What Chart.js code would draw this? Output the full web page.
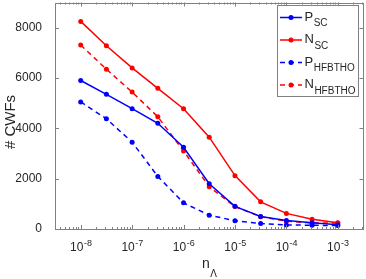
<!DOCTYPE html>
<html>
<head>
<meta charset="utf-8">
<script src="https://cdn.jsdelivr.net/npm/chart.js@4"></script>
<style>
  html, body { margin: 0; padding: 0; background: #fff; }
  #wrap { width: 366px; height: 279px; }
</style>
</head>
<body>
<div id="wrap"><canvas id="chart"></canvas></div>
<script>
// n_Lambda values (log x axis)
const nLambda = [1e-8, 3.16e-8, 1e-7, 3.16e-7, 1e-6, 3.16e-6, 1e-5, 3.16e-5, 1e-4, 3.16e-4, 1e-3];

// # CWFs per series
const pSC = [5900, 5350, 4780, 4200, 3250, 1800, 900, 500, 340, 250, 170];
const nSC = [8250, 7280, 6400, 5590, 4780, 3650, 2120, 1080, 620, 390, 250];
const pHFBTHO = [5050, 4380, 3450, 2090, 1040, 550, 330, 220, 160, 150, 135];
const nHFBTHO = [7310, 6350, 5440, 4460, 3100, 1680, 890, 490, 310, 240, 240];

const seriesNames = [['P', 'SC'], ['N', 'SC'], ['P', 'HFBTHO'], ['N', 'HFBTHO']];

// ticks
const xTickExps = [-8, -7, -6, -5, -4, -3];
const yTicks = [0, 2000, 4000, 6000, 8000];

const textColor = '#262626';
const axisColor = '#808080';
const blue = '#0000ff';
const red = '#ff0000';

function makeSet(label, values, color, dashed) {
    return {
        label: label,
        data: values.map((v, i) => ({ x: nLambda[i], y: v })),
        borderColor: color,
        backgroundColor: color,
        borderWidth: 1.5,
        borderDash: dashed ? [5, 4] : [],
        pointRadius: 2.5,
        pointHoverRadius: 2.5,
        pointBorderWidth: 0,
        tension: 0
    };
}

// frame, inside ticks, x labels, axis titles, legend
const matlabAxes = {
    id: 'matlabAxes',
    afterDraw(chart) {
        const ctx = chart.ctx;
        const a = chart.chartArea;
        const xs = chart.scales.x;
        const ys = chart.scales.y;
        ctx.save();

        // ticks
        ctx.strokeStyle = axisColor;
        ctx.lineWidth = 1;
        ctx.beginPath();
        for (let e = -9; e <= -2; e++) {
            for (let m = 1; m <= 9; m++) {
                const v = m * Math.pow(10, e);
                if (v < xs.min || v > xs.max) continue;
                const px = Math.round(xs.getPixelForValue(v)) + 0.5;
                const len = m === 1 ? 4 : 2;
                ctx.moveTo(px, a.bottom);
                ctx.lineTo(px, a.bottom - len);
                ctx.moveTo(px, a.top);
                ctx.lineTo(px, a.top + len);
            }
        }
        yTicks.forEach(v => {
            const py = Math.round(ys.getPixelForValue(v)) + 0.5;
            ctx.moveTo(a.left, py);
            ctx.lineTo(a.left + 4, py);
            ctx.moveTo(a.right, py);
            ctx.lineTo(a.right - 4, py);
        });
        ctx.stroke();

        // frame
        ctx.strokeRect(Math.round(a.left) + 0.5, Math.round(a.top) + 0.5,
            Math.round(a.right - a.left) - 1, Math.round(a.bottom - a.top) - 1);

        // x tick labels 10^e
        ctx.fillStyle = textColor;
        ctx.textBaseline = 'alphabetic';
        xTickExps.forEach(e => {
            const px = xs.getPixelForValue(Math.pow(10, e));
            ctx.font = '12px "Liberation Sans", Arial, sans-serif';
            const w1 = ctx.measureText('10').width;
            ctx.font = '9px "Liberation Sans", Arial, sans-serif';
            const exp = '-' + Math.abs(e);
            const w2 = ctx.measureText(exp).width;
            const x0 = px - (w1 + w2) / 2;
            ctx.font = '12px "Liberation Sans", Arial, sans-serif';
            ctx.fillText('10', x0, 251);
            ctx.font = '9px "Liberation Sans", Arial, sans-serif';
            ctx.fillText(exp, x0 + w1 + 0.5, 246);
        });

        // x title n_Lambda
        ctx.font = '14px "Liberation Sans", Arial, sans-serif';
        const wn = ctx.measureText('n').width;
        ctx.font = '10px "Liberation Sans", Arial, sans-serif';
        const wl = ctx.measureText('Λ').width;
        const cx = (a.left + a.right) / 2;
        const tx = cx - (wn + wl) / 2;
        ctx.font = '14px "Liberation Sans", Arial, sans-serif';
        ctx.fillText('n', tx, 268);
        ctx.font = '10px "Liberation Sans", Arial, sans-serif';
        ctx.fillText('Λ', tx + wn + 0.5, 277);

        // y title
        ctx.save();
        ctx.translate(15, 122);
        ctx.rotate(-Math.PI / 2);
        ctx.textAlign = 'center';
        ctx.font = '15px "Liberation Sans", Arial, sans-serif';
        ctx.fillText('# CWFs', 0, 0);
        ctx.restore();

        // legend
        const lx = 277.5, ly = 5.5, lw = 81, lh = 91;
        ctx.fillStyle = '#ffffff';
        ctx.fillRect(lx, ly, lw, lh);
        ctx.strokeStyle = axisColor;
        ctx.strokeRect(lx, ly, lw, lh);
        const rowY = [17.5, 40, 62.5, 85];
        chart.data.datasets.forEach((ds, i) => {
            const y = rowY[i];
            ctx.strokeStyle = ds.borderColor;
            ctx.lineWidth = 1.5;
            ctx.setLineDash(ds.borderDash);
            ctx.beginPath();
            ctx.moveTo(280, y);
            ctx.lineTo(302, y);
            ctx.stroke();
            ctx.setLineDash([]);
            ctx.fillStyle = ds.borderColor;
            ctx.beginPath();
            ctx.arc(291, y, 2.5, 0, Math.PI * 2);
            ctx.fill();
            ctx.fillStyle = textColor;
            ctx.textAlign = 'left';
            ctx.font = '13px "Liberation Sans", Arial, sans-serif';
            const name = seriesNames[i];
            ctx.fillText(name[0], 304.5, y + 3);
            const wm = ctx.measureText(name[0]).width;
            ctx.font = '10px "Liberation Sans", Arial, sans-serif';
            ctx.fillText(name[1], 304.5 + wm + 0.5, y + 8.5);
        });

        ctx.restore();
    }
};

new Chart(document.getElementById('chart').getContext('2d'), {
    type: 'line',
    data: {
        datasets: [
            makeSet('P_SC', pSC, blue, false),
            makeSet('N_SC', nSC, red, false),
            makeSet('P_HFBTHO', pHFBTHO, blue, true),
            makeSet('N_HFBTHO', nHFBTHO, red, true)
        ]
    },
    options: {
        responsive: true,
        maintainAspectRatio: false,
        animation: false,
        layout: { padding: { top: 0, right: 1, bottom: 0, left: 0 } },
        plugins: {
            legend: { display: false },
            tooltip: { enabled: false }
        },
        scales: {
            x: {
                type: 'logarithmic',
                min: Math.pow(10, -8.5),
                max: Math.pow(10, -2.5),
                grid: { display: false },
                border: { display: false },
                ticks: { display: false },
                afterFit(scale) {
                    scale.height = 50;
                    scale.paddingLeft = 0;
                    scale.paddingRight = 0;
                }
            },
            y: {
                type: 'linear',
                min: 0,
                max: 9000,
                afterBuildTicks(scale) { scale.ticks = yTicks.map(v => ({ value: v })); },
                grid: { display: false },
                border: { display: false },
                ticks: {
                    color: textColor,
                    padding: 5,
                    font: { family: '"Liberation Sans", Arial, sans-serif', size: 12 },
                    callback: v => String(v)
                },
                afterFit(scale) {
                    scale.width = 55;
                    scale.paddingTop = 0;
                    scale.paddingBottom = 0;
                }
            }
        }
    },
    plugins: [matlabAxes]
});
</script>
</body>
</html>
